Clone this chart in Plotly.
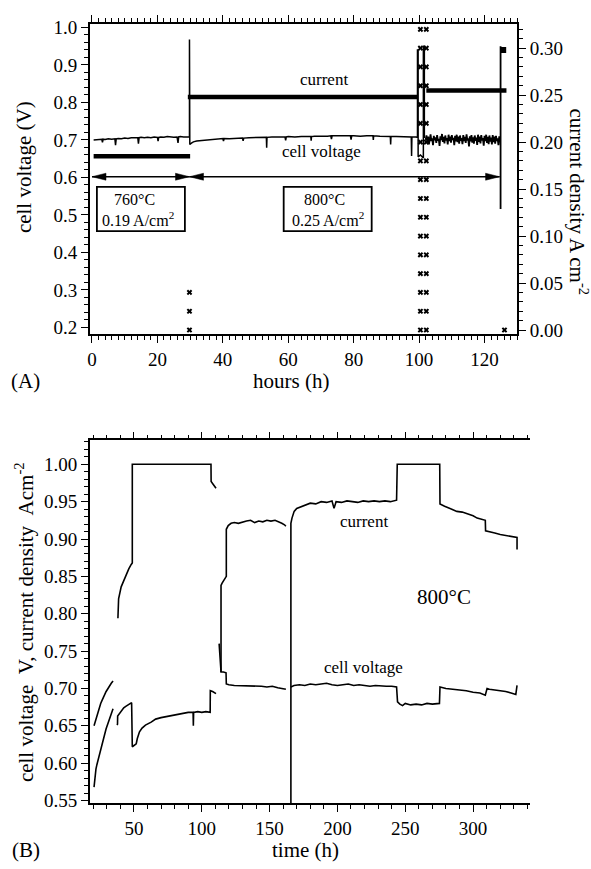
import plotly.graph_objects as go

FONT = "Liberation Serif, Times New Roman, serif"

# ---------------- Panel A data ----------------
# current density (A cm-2), thick steps
a_cur_h = [0.5, 30.0, None, 29.3, 99.4, None, 102.2, 126.7]
a_cur_j = [0.185, 0.185, None, 0.248, 0.248, None, 0.255, 0.255]

# cell voltage (V), 0 - 102 h
a_volt_h = [0.5, 1, 2, 3, 3.2, 3.4, 4, 5, 6, 7, 7.2, 7.4, 8, 9, 10, 11, 12, 13, 14, 14.2, 14.4, 15,
            16, 17, 18, 19, 20, 20.2, 20.4, 21, 22, 23, 24, 25, 26, 26.3, 26.5, 27, 28, 29, 29.8,
            29.8, 29.9, 30.5, 31, 32, 33, 34, 36, 38, 40, 40.2, 40.4, 42, 44, 46, 46.2, 46.4, 48,
            50, 52, 53.3, 53.4, 53.5, 55, 57, 59, 59.2, 59.4, 60, 62, 64, 66, 66.9, 67, 67.1, 68,
            70, 72, 73, 73.2, 73.4, 74, 76, 78, 79, 79.2, 79.4, 80, 82, 84, 85.9, 86, 86.1, 88, 90,
            91.2, 91.3, 91.4, 93, 95, 97, 97.6, 97.7, 97.8, 99, 99.5, 99.5, 99.7, 99.7, 100.4,
            101.3, 101.3, 101.6, 101.6]
a_volt_v = [0.700, 0.700, 0.701, 0.702, 0.694, 0.702, 0.701, 0.703, 0.702, 0.703, 0.686, 0.703,
            0.704, 0.703, 0.705, 0.704, 0.706, 0.705, 0.706, 0.690, 0.706, 0.707, 0.706, 0.707,
            0.706, 0.708, 0.707, 0.697, 0.707, 0.708, 0.707, 0.709, 0.708, 0.707, 0.708, 0.692,
            0.708, 0.709, 0.708, 0.709, 0.708, 0.968, 0.688, 0.692, 0.695, 0.697, 0.698, 0.700,
            0.701, 0.703, 0.704, 0.697, 0.704, 0.703, 0.705, 0.705, 0.698, 0.705, 0.706, 0.707,
            0.707, 0.707, 0.679, 0.707, 0.708, 0.707, 0.708, 0.699, 0.708, 0.709, 0.708, 0.709,
            0.710, 0.709, 0.698, 0.709, 0.710, 0.709, 0.710, 0.711, 0.702, 0.711, 0.711, 0.710,
            0.711, 0.711, 0.701, 0.711, 0.711, 0.710, 0.711, 0.711, 0.700, 0.711, 0.710, 0.710,
            0.709, 0.688, 0.709, 0.709, 0.708, 0.708, 0.708, 0.657, 0.708, 0.708, 0.707, 0.940,
            0.940, 0.655, 0.660, 0.652, 0.950, 0.950, 0.705]

# cell voltage (V), noisy part 102 - 125 h
a_noise_h = [102.0, 102.25, 102.5, 102.75, 103.0, 103.25, 103.5, 103.75, 104.0, 104.25, 104.5,
             104.75, 105.0, 105.25, 105.5, 105.75, 106.0, 106.25, 106.5, 106.75, 107.0, 107.25,
             107.5, 107.75, 108.0, 108.25, 108.5, 108.75, 109.0, 109.25, 109.5, 109.75, 110.0,
             110.25, 110.5, 110.75, 111.0, 111.25, 111.5, 111.75, 112.0, 112.25, 112.5, 112.75,
             113.0, 113.25, 113.5, 113.75, 114.0, 114.25, 114.5, 114.75, 115.0, 115.25, 115.5,
             115.75, 116.0, 116.25, 116.5, 116.75, 117.0, 117.25, 117.5, 117.75, 118.0, 118.25,
             118.5, 118.75, 119.0, 119.25, 119.5, 119.75, 120.0, 120.25, 120.5, 120.75, 121.0,
             121.25, 121.5, 121.75, 122.0, 122.25, 122.5, 122.75, 123.0, 123.25, 123.5, 123.75,
             124.0, 124.25, 124.5, 124.75, 124.9, 124.9, 124.9]
a_noise_v = [0.700, 0.712, 0.694, 0.709, 0.688, 0.706, 0.715, 0.697, 0.704, 0.686, 0.711, 0.699,
             0.707, 0.692, 0.713, 0.698, 0.703, 0.684, 0.710, 0.700, 0.716, 0.695, 0.708, 0.691,
             0.712, 0.699, 0.705, 0.688, 0.714, 0.697, 0.709, 0.693, 0.713, 0.700, 0.706, 0.686,
             0.711, 0.696, 0.714, 0.694, 0.709, 0.690, 0.712, 0.698, 0.705, 0.689, 0.713, 0.697,
             0.708, 0.692, 0.715, 0.699, 0.704, 0.683, 0.710, 0.696, 0.713, 0.693, 0.707, 0.690,
             0.712, 0.698, 0.706, 0.687, 0.714, 0.695, 0.709, 0.691, 0.713, 0.699, 0.705, 0.685,
             0.711, 0.697, 0.714, 0.692, 0.708, 0.689, 0.712, 0.696, 0.706, 0.688, 0.713, 0.694,
             0.709, 0.690, 0.711, 0.697, 0.704, 0.686, 0.710, 0.695, 0.700, 0.516, 0.950]

# polarisation points (current density, A cm-2)
a_pol_levels = [0.00, 0.02, 0.04, 0.06, 0.08, 0.10, 0.12, 0.14, 0.16, 0.18, 0.20, 0.22, 0.24,
                0.26, 0.28, 0.30, 0.32]
a_pol_cols = [100.4, 102.2]
a_pol0_h = [29.8, 29.8, 29.8, 126.1]
a_pol0_j = [0.00, 0.02, 0.04, 0.00]
a_end_h = [125.7]
a_end_j = [0.298]

# ---------------- Panel B data ----------------
b_cur_h = [38.2, 38.7, 40.6, 42.5, 44.3, 46.2, 48.0, 48.8, 48.8, 106.8, 106.9, 108.5, 110.5, None,
           114.2, 114.2, 115.0, 116.0, 117.2, 118.1, 118.1, 119.5, 121.6, 124, 127, 130, 133, 136,
           139, 142, 145, 148, 151, 154, 157, 159, 161, 162, None,
           165.7, 165.7, 166.5, 168.1, 170, 173, 176, 180, 184, 188, 192, 196, 197.5, 199, 203,
           207, 211, 215, 219, 223, 227, 231, 235, 239, 243.6, 244.1, 275.4, 275.6, 279, 283,
           288, 292, 296, 300, 303, 307, 309, 309.2, 312, 316, 320, 324, 328, 332.4, 332.4]
b_cur_v = [0.794, 0.820, 0.836, 0.845, 0.853, 0.860, 0.866, 0.868, 1.000, 1.000, 0.977, 0.973,
           0.968, None,
           0.722, 0.838, 0.841, 0.844, 0.847, 0.850, 0.913, 0.918, 0.921, 0.922, 0.921, 0.923,
           0.924, 0.925, 0.922, 0.924, 0.923, 0.925, 0.924, 0.925, 0.923, 0.921, 0.919, 0.917, None,
           0.540, 0.921, 0.928, 0.937, 0.941, 0.943, 0.946, 0.948, 0.947, 0.950, 0.949, 0.951,
           0.941, 0.950, 0.949, 0.951, 0.950, 0.949, 0.951, 0.950, 0.951, 0.950, 0.951, 0.950,
           0.952, 1.000, 1.000, 0.947, 0.944, 0.941, 0.937, 0.936, 0.934, 0.931, 0.928, 0.926,
           0.925, 0.911, 0.910, 0.908, 0.906, 0.905, 0.903, 0.902, 0.886]

b_volt_h = [20.6, 21.5, 22.5, 23.5, 24.5, 25.5, 26.5, 27.2, 28.5, 29.5, 30.9, 32, 33.3, 34.6, None,
            20.6, 21.3, 22, 22.7, 23.5, 24.5, 25.5, 26.5, 27.2, 28.5, 29.5, 30.9, 32, 33.3, 34.6, None,
            37.5, 37.9, 38.0, 39.5, 41, 42.5, 44, 45.5, 47, 48.3, 48.8, 49.5, 50.5, 51.7, 52.5,
            54.1, 56, 58.5, 62.7, 66, 70, 75, 80, 87.2, 90, 93.6, 93.8, 94.0, 97, 100, 103, 106.2,
            106.3, 108, 110.5, None,
            112.8, 113.3, 114.2, 116, 117.9, 118.1, 120, 124, 128, 132, 136, 140, 144, 148, 152,
            156, 159, 162, None,
            165.7, 168, 172, 176, 180, 184, 188, 192, 196, 200, 204, 208, 212, 216, 220, 224, 228,
            232, 236, 240, 243.6, 244.3, 246, 248, 250, 254, 258, 262, 266, 270, 275.2, 275.6,
            280, 285, 290, 295, 300, 305, 309, 310.3, 312, 316, 320, 324, 328, 331.5, 332.4]
b_volt_v = [0.650, 0.656, 0.663, 0.669, 0.675, 0.680, 0.684, 0.687, 0.692, 0.696, 0.700, 0.704,
            0.707, 0.710, None,
            0.568, 0.582, 0.592, 0.598, 0.604, 0.613, 0.620, 0.626, 0.630, 0.639, 0.646, 0.654,
            0.660, 0.667, 0.673, None,
            0.651, 0.652, 0.663, 0.667, 0.671, 0.674, 0.676, 0.678, 0.680, 0.681, 0.622, 0.623,
            0.624, 0.626, 0.633, 0.642, 0.647, 0.651, 0.655, 0.659, 0.661, 0.663, 0.665, 0.667,
            0.668, 0.668, 0.650, 0.668, 0.669, 0.668, 0.669, 0.668, 0.697, 0.696, 0.693, None,
            0.760, 0.748, 0.722, 0.722, 0.721, 0.706, 0.705, 0.704, 0.704, 0.703, 0.704, 0.703,
            0.703, 0.702, 0.703, 0.701, 0.700, 0.699, None,
            0.702, 0.704, 0.705, 0.704, 0.706, 0.705, 0.706, 0.707, 0.705, 0.704, 0.705, 0.706,
            0.704, 0.705, 0.704, 0.703, 0.704, 0.703, 0.703, 0.703, 0.702, 0.682, 0.679, 0.677,
            0.680, 0.678, 0.679, 0.678, 0.680, 0.679, 0.680, 0.702, 0.700, 0.699, 0.698, 0.697,
            0.695, 0.694, 0.691, 0.700, 0.699, 0.698, 0.697, 0.696, 0.694, 0.692, 0.704]

assert len(a_volt_h) == len(a_volt_v)
assert len(a_noise_h) == len(a_noise_v)
assert len(b_cur_h) == len(b_cur_v)
assert len(b_volt_h) == len(b_volt_v)

pol_h = [c for lvl in a_pol_levels for c in a_pol_cols] + a_pol0_h
pol_j = [lvl for lvl in a_pol_levels for c in a_pol_cols] + a_pol0_j

BLACK = "black"
fig = go.Figure()

# Panel A
fig.add_trace(go.Scatter(x=a_volt_h, y=a_volt_v, mode="lines", xaxis="x", yaxis="y",
                         line=dict(color=BLACK, width=1.5)))
fig.add_trace(go.Scatter(x=a_noise_h, y=a_noise_v, mode="lines", xaxis="x", yaxis="y",
                         line=dict(color=BLACK, width=1.8)))
fig.add_trace(go.Scatter(x=a_cur_h, y=a_cur_j, mode="lines", xaxis="x", yaxis="y2",
                         line=dict(color=BLACK, width=4.5)))
fig.add_trace(go.Scatter(x=pol_h, y=pol_j, mode="markers", xaxis="x", yaxis="y2",
                         marker=dict(symbol="x", size=5, color=BLACK, line=dict(width=0))))
fig.add_trace(go.Scatter(x=a_end_h, y=a_end_j, mode="markers", xaxis="x", yaxis="y2",
                         marker=dict(symbol="square", size=6, color=BLACK)))

# Panel B
fig.add_trace(go.Scatter(x=b_cur_h, y=b_cur_v, mode="lines", xaxis="x2", yaxis="y3",
                         line=dict(color=BLACK, width=1.6)))
fig.add_trace(go.Scatter(x=b_volt_h, y=b_volt_v, mode="lines", xaxis="x2", yaxis="y3",
                         line=dict(color=BLACK, width=1.6)))

W, H = 591, 869
def px(x):
    return x / W
def py(y):
    return 1 - y / H

tickfont = dict(family=FONT, size=19, color=BLACK)
common = dict(showline=True, linecolor=BLACK, linewidth=1.5, ticks="outside", tickcolor=BLACK,
              tickwidth=1.3, ticklen=7, showgrid=False, zeroline=False, tickfont=tickfont)
minor_common = dict(ticks="outside", ticklen=4, tickcolor=BLACK, tickwidth=1.1, showgrid=False)

fig.update_layout(
    width=W, height=H, margin=dict(l=0, r=0, t=0, b=0),
    paper_bgcolor="white", plot_bgcolor="white", showlegend=False,
    font=dict(family=FONT, color=BLACK),
    xaxis=dict(domain=[px(88), px(517)], anchor="y", range=[-0.7, 130.0], dtick=20,
               mirror="ticks", minor=dict(dtick=2, tick0=0, **minor_common), **common),
    yaxis=dict(domain=[py(333), py(17)], anchor="x", range=[0.182, 1.01], dtick=0.1,
               tickformat=".1f", minor=dict(dtick=0.02, tick0=0, **minor_common), **common),
    yaxis2=dict(overlaying="y", side="right", anchor="x", range=[-0.0045, 0.326], dtick=0.05,
                tickformat=".2f", minor=dict(dtick=0.01, tick0=0, **minor_common), **common),
    xaxis2=dict(domain=[px(88), px(530)], anchor="y3", range=[17.4, 342.1], dtick=50,
                mirror="ticks", minor=dict(dtick=10, tick0=0, **minor_common), **common),
    yaxis3=dict(domain=[py(810), py(441)], anchor="x2", range=[0.5467, 1.032], dtick=0.05,
                tickformat=".2f", minor=dict(dtick=0.01, tick0=0, **minor_common), **common),
    yaxis4=dict(overlaying="y3", side="right", anchor="x2", range=[0.5467, 1.032], dtick=0.05,
                tickformat=".2f", minor=dict(dtick=0.01, tick0=0, **minor_common), **common),
)

shapes = []
# boxes in panel A
for (x0, x1) in [(1.5, 28.4), (58.6, 85.5)]:
    shapes.append(dict(type="rect", xref="x", yref="y", x0=x0, x1=x1, y0=0.457, y1=0.575,
                       line=dict(color=BLACK, width=1.8), fillcolor="rgba(0,0,0,0)"))
# arrow shafts
AY = 0.602
shapes.append(dict(type="line", xref="x", yref="y", x0=0, x1=29.8, y0=AY, y1=AY,
                   line=dict(color=BLACK, width=1.3)))
shapes.append(dict(type="line", xref="x", yref="y", x0=29.8, x1=124.6, y0=AY, y1=AY,
                   line=dict(color=BLACK, width=1.3)))
# arrowheads (pixel-sized paths anchored at data points)
left_head = "M0,0 L14,3.5 L14,-3.5 Z"
right_head = "M0,0 L-14,3.5 L-14,-3.5 Z"
for xa, path in [(0, left_head), (29.8, right_head), (29.8, left_head), (124.6, right_head)]:
    shapes.append(dict(type="path", xref="x", yref="y", xsizemode="pixel", ysizemode="pixel",
                       xanchor=xa, yanchor=AY, path=path, fillcolor=BLACK,
                       line=dict(color=BLACK, width=0.5)))
fig.update_layout(shapes=shapes)

ann = []
def add_text(text, x, y, xref, yref, size, angle=0, xanchor="center"):
    ann.append(dict(text=text, x=x, y=y, xref=xref, yref=yref, showarrow=False,
                    font=dict(family=FONT, size=size, color=BLACK), textangle=angle,
                    xanchor=xanchor, yanchor="middle"))

# panel A texts
add_text("current", 70.8, 0.860, "x", "y", 17)
add_text("cell voltage", 70.2, 0.670, "x", "y", 17)
add_text("760°C", 13.0, 0.540, "x", "y", 16)
add_text("0.19 A/cm<sup>2</sup>", 14.0, 0.490, "x", "y", 16)
add_text("800°C", 71.0, 0.540, "x", "y", 16)
add_text("0.25 A/cm<sup>2</sup>", 72.0, 0.490, "x", "y", 16)
add_text("cell voltage (V)", px(22), py(163), "paper", "paper", 21, angle=-90)
add_text("current density A cm<sup>-2</sup>", px(578), py(198), "paper", "paper", 21, angle=90)
add_text("hours (h)", px(290), py(381), "paper", "paper", 21)
add_text("(A)", px(24), py(381), "paper", "paper", 21)

# panel B texts
add_text("current", 219.3, 0.924, "x2", "y3", 17)
add_text("cell voltage", 219.3, 0.728, "x2", "y3", 17)
add_text("800°C", 278.2, 0.823, "x2", "y3", 21)
add_text("cell voltage\u00a0\u00a0V, current density\u00a0\u00a0Acm<sup>-2</sup>", px(22), py(626),
         "paper", "paper", 21, angle=-90)
add_text("time (h)", px(305), py(858), "paper", "paper", 21)
add_text("(B)", px(24), py(858), "paper", "paper", 21)

fig.update_layout(annotations=ann)

fig.write_html("out.html")
